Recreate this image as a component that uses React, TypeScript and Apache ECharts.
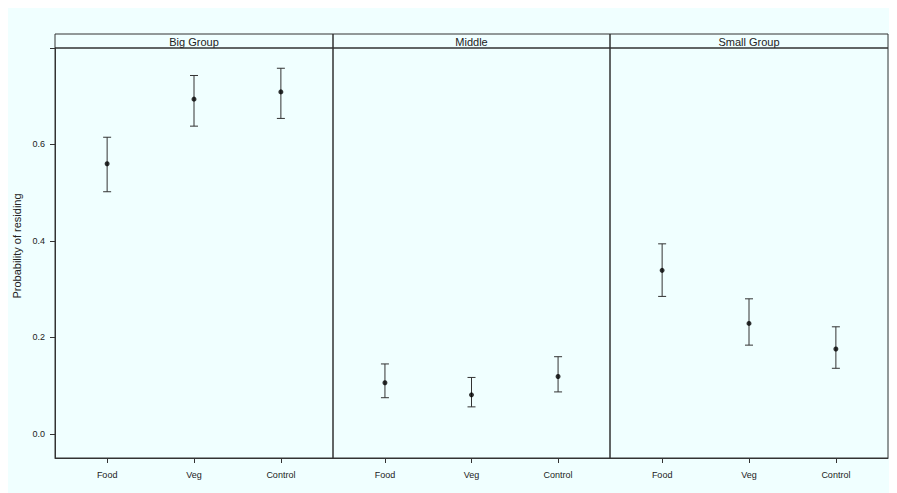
import React, { useEffect, useRef } from "react";
import * as echarts from "echarts";

// Treatments on the x axis of every panel, and the panel (group size) names
const categories = ["Food", "Veg", "Control"];
const panelNames = ["Big Group", "Middle", "Small Group"];

// Estimated probability of residing with its interval, per panel
const bigMean = [0.56, 0.694, 0.709];
const bigLower = [0.502, 0.638, 0.654];
const bigUpper = [0.615, 0.743, 0.758];

const middleMean = [0.106, 0.081, 0.119];
const middleLower = [0.075, 0.056, 0.087];
const middleUpper = [0.145, 0.117, 0.16];

const smallMean = [0.339, 0.229, 0.176];
const smallLower = [0.285, 0.184, 0.136];
const smallUpper = [0.394, 0.28, 0.222];

// Y axis ticks (0.8 is ticked but left unlabelled)
const yTicks = [0, 0.2, 0.4, 0.6, 0.8];
const yLabels = [0, 0.2, 0.4, 0.6];

const panelMeans = [bigMean, middleMean, smallMean];
const panelLowers = [bigLower, middleLower, smallLower];
const panelUppers = [bigUpper, middleUpper, smallUpper];

const LINE = "#333333";
const TEXT = "#222222";
const FONT = "Arial, 'Liberation Sans', sans-serif";

export default function App() {
  const ref = useRef<HTMLDivElement>(null);

  useEffect(() => {
    if (!ref.current) return;
    const chart = echarts.init(ref.current, null, { renderer: "svg" });

    // panel layout inside the chart box
    const panelLefts = [47, 325, 602];
    const panelWidths = [278, 277, 278];
    const panelTop = 40;
    const panelHeight = 410;
    const stripHeight = 14;

    const grids = panelLefts.map((left, i) => ({
      left,
      top: panelTop,
      width: panelWidths[i],
      height: panelHeight,
      show: true,
      borderColor: LINE,
      borderWidth: 1,
      backgroundColor: "transparent",
    }));

    const xAxes = panelLefts.map((_, i) => ({
      type: "value",
      gridIndex: i,
      min: 0.4,
      max: 3.6,
      axisLine: { show: true, onZero: false, lineStyle: { color: LINE, width: 1 } },
      axisTick: {
        show: true,
        customValues: [1, 2, 3],
        length: 5,
        inside: false,
        lineStyle: { color: LINE },
      },
      axisLabel: {
        show: true,
        customValues: [1, 2, 3],
        formatter: (v: number) => categories[Math.round(v) - 1] ?? "",
        fontSize: 9,
        fontFamily: FONT,
        color: TEXT,
        margin: 12,
      },
      splitLine: { show: false },
    }));

    const yAxes = panelLefts.map((_, i) => ({
      type: "value",
      gridIndex: i,
      min: -0.05,
      max: 0.8,
      axisLine: { show: i === 0, onZero: false, lineStyle: { color: LINE, width: 1 } },
      axisTick: {
        show: i === 0,
        customValues: yTicks,
        length: 5,
        inside: false,
        lineStyle: { color: LINE },
      },
      axisLabel: {
        show: i === 0,
        customValues: yLabels,
        formatter: (v: number) => v.toFixed(1),
        fontSize: 9,
        fontFamily: FONT,
        color: TEXT,
        margin: 10,
      },
      splitLine: { show: false },
    }));

    const series: any[] = [];
    panelMeans.forEach((means, p) => {
      const lowers = panelLowers[p];
      const uppers = panelUppers[p];
      series.push({
        type: "custom",
        xAxisIndex: p,
        yAxisIndex: p,
        data: categories.map((_, i) => [i + 1, lowers[i], uppers[i]]),
        renderItem: (_params: any, api: any) => {
          const x = api.value(0);
          const lo = api.coord([x, api.value(1)]);
          const hi = api.coord([x, api.value(2)]);
          const cap = 4;
          const style = { stroke: LINE, lineWidth: 1 };
          return {
            type: "group",
            children: [
              { type: "line", shape: { x1: lo[0], y1: lo[1], x2: hi[0], y2: hi[1] }, style },
              { type: "line", shape: { x1: hi[0] - cap, y1: hi[1], x2: hi[0] + cap, y2: hi[1] }, style },
              { type: "line", shape: { x1: lo[0] - cap, y1: lo[1], x2: lo[0] + cap, y2: lo[1] }, style },
            ],
          };
        },
        z: 2,
      });
      series.push({
        type: "scatter",
        xAxisIndex: p,
        yAxisIndex: p,
        symbol: "circle",
        symbolSize: 5,
        itemStyle: { color: "#000000" },
        data: categories.map((_, i) => [i + 1, means[i]]),
        z: 3,
      });
    });

    // strips holding the panel names
    const strips: any[] = [];
    panelNames.forEach((name, i) => {
      strips.push({
        type: "rect",
        shape: {
          x: panelLefts[i],
          y: panelTop - stripHeight,
          width: panelWidths[i],
          height: stripHeight,
        },
        style: { fill: "transparent", stroke: LINE, lineWidth: 1 },
        z: 10,
      });
      strips.push({
        type: "text",
        x: panelLefts[i] + panelWidths[i] / 2,
        y: panelTop - stripHeight / 2 + 0.5,
        style: {
          text: name,
          fontSize: 11,
          fontFamily: FONT,
          fill: TEXT,
          align: "center",
          verticalAlign: "middle",
        },
        z: 11,
      });
    });
    strips.push({
      type: "text",
      x: 9,
      y: 238,
      rotation: Math.PI / 2,
      style: {
        text: "Probability of residing",
        fontSize: 11,
        fontFamily: FONT,
        fill: TEXT,
        align: "center",
        verticalAlign: "middle",
      },
      z: 11,
    });

    chart.setOption({
      animation: false,
      backgroundColor: "#F0FFFF",
      grid: grids,
      xAxis: xAxes,
      yAxis: yAxes,
      series,
      graphic: strips,
    });

    return () => chart.dispose();
  }, []);

  return <div ref={ref} style={{ width: 889, height: 485 }} />;
}
